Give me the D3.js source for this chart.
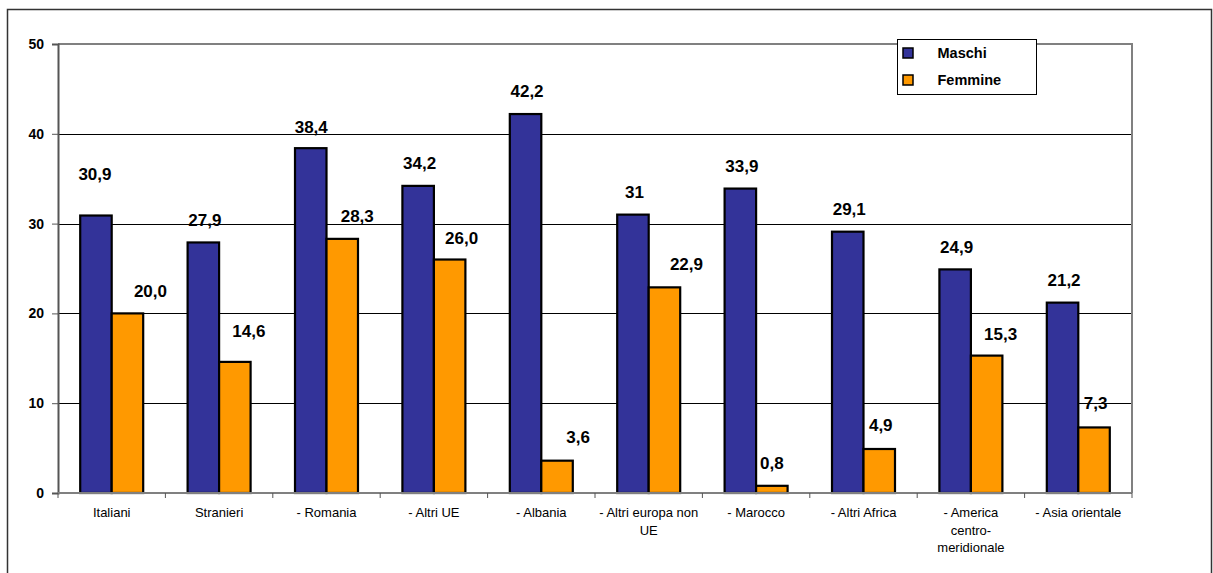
<!DOCTYPE html>
<html>
<head>
<meta charset="utf-8">
<script src="https://cdn.jsdelivr.net/npm/d3@7"></script>
<style>
  html, body { margin: 0; padding: 0; background: #fff; }
  svg { display: block; font-family: Arial, "Liberation Sans", sans-serif; }
</style>
</head>
<body>
<svg id="chart" width="1213" height="573"></svg>
<script>
// Categories (line breaks mark how the axis labels wrap)
const categories = [
  "Italiani", "Stranieri", "- Romania", "- Altri UE", "- Albania",
  "- Altri europa non\nUE", "- Marocco", "- Altri Africa",
  "- America\ncentro-\nmeridionale", "- Asia orientale"
];
const seriesNames = ["Maschi", "Femmine"];
const maschi  = [30.9, 27.9, 38.4, 34.2, 42.2, 31, 33.9, 29.1, 24.9, 21.2];
const femmine = [20.0, 14.6, 28.3, 26.0, 3.6, 22.9, 0.8, 4.9, 15.3, 7.3];
const yTicks = [0, 10, 20, 30, 40, 50];

// Hand-placed value labels: extra pixel shift per bar [dx, dy]
const labelShiftMaschi  = [[-2.5,-19],[0,0],[-1,2],[0,0],[0,0],[0,0],[0,0],[0,0],[0,0],[0,0]];
const labelShiftFemmine = [[21.5,0],[12.5,-8],[13.5,0],[10.5,1],[19.5,-1],[20.5,0],[-1.5,0],[0,-1],[12.5,1],[0,-2]];

const colors = { Maschi: "#333399", Femmine: "#FF9900" };

const itLocale = d3.formatLocale({ decimal: ",", thousands: ".", grouping: [3], currency: ["€", ""] });
const fmt = { Maschi: itLocale.format(".1~f"), Femmine: itLocale.format(".1f") };

const svg = d3.select("#chart");

// Outer frame
svg.append("path")
  .attr("d", "M7.5,573 V9.5 H1211.5 V573")
  .attr("fill", "none").attr("stroke", "#333").attr("stroke-width", 1.5);

const plot = { left: 58, right: 1132, top: 44, bottom: 493 };

const x = d3.scaleBand().domain(categories).range([plot.left, plot.right]).padding(0);
const xs = d3.scaleBand().domain(seriesNames).range([0, x.bandwidth()])
  .paddingInner(0).paddingOuter(0.705);
const y = d3.scaleLinear().domain([0, 50]).range([plot.bottom, plot.top]);

// Gridlines
svg.append("g").selectAll("line").data(yTicks.filter(t => t > 0 && t < 50)).join("line")
  .attr("x1", plot.left).attr("x2", plot.right)
  .attr("y1", d => Math.round(y(d)) + 0.5).attr("y2", d => Math.round(y(d)) + 0.5)
  .attr("stroke", "#000").attr("stroke-width", 1);

// Plot frame (top and right)
svg.append("path")
  .attr("d", `M${plot.left},${plot.top} H${plot.right} V${plot.bottom}`)
  .attr("fill", "none").attr("stroke", "#808080").attr("stroke-width", 2);

// Bars
const rows = categories.map((c, i) => ({ cat: c, i, values: [
  { s: "Maschi", v: maschi[i], shift: labelShiftMaschi[i] },
  { s: "Femmine", v: femmine[i], shift: labelShiftFemmine[i] }
]}));

const groups = svg.append("g").selectAll("g").data(rows).join("g")
  .attr("transform", d => `translate(${x(d.cat)},0)`);

groups.selectAll("rect").data(d => d.values).join("rect")
  .attr("x", d => xs(d.s))
  .attr("width", xs.bandwidth())
  .attr("y", d => y(d.v))
  .attr("height", d => y(0) - y(d.v))
  .attr("fill", d => colors[d.s])
  .attr("stroke", "#000").attr("stroke-width", 2.2);

// Value labels
groups.selectAll("text").data(d => d.values).join("text")
  .attr("x", d => xs(d.s) + xs.bandwidth() / 2 + 1.5 + d.shift[0])
  .attr("y", d => y(d.v) - 23 + d.shift[1])
  .attr("dy", "0.36em")
  .attr("text-anchor", "middle")
  .attr("font-size", 17).attr("font-weight", "bold").attr("fill", "#000")
  .text(d => fmt[d.s](d.v));

// Y axis
const yAxis = svg.append("g").attr("transform", `translate(${plot.left},0)`)
  .call(d3.axisLeft(y).tickValues(yTicks).tickSize(6).tickPadding(8).tickFormat(d3.format("d")));
yAxis.select(".domain").attr("stroke", "#555").attr("stroke-width", 2);
yAxis.selectAll(".tick line").attr("stroke", "#555");
yAxis.selectAll(".tick text").attr("font-size", 14).attr("font-weight", "bold")
  .attr("font-family", "Arial, 'Liberation Sans', sans-serif").attr("fill", "#000");

// X axis: ticks at category boundaries
const xAxis = svg.append("g");
xAxis.append("line")
  .attr("x1", plot.left).attr("x2", plot.right)
  .attr("y1", plot.bottom).attr("y2", plot.bottom)
  .attr("stroke", "#808080").attr("stroke-width", 2);
const bounds = categories.map(c => x(c)).concat([plot.right]);
xAxis.selectAll("line.tk").data(bounds).join("line").attr("class", "tk")
  .attr("x1", d => d).attr("x2", d => d)
  .attr("y1", plot.bottom).attr("y2", plot.bottom + 5)
  .attr("stroke", "#555").attr("stroke-width", 1);

const catLabels = xAxis.selectAll("text").data(categories).join("text")
  .attr("text-anchor", "middle")
  .attr("font-size", 13).attr("fill", "#000")
  .attr("transform", d => `translate(${x(d) + x.bandwidth() / 2},517)`);
catLabels.selectAll("tspan").data(d => d.split("\n")).join("tspan")
  .attr("x", 0).attr("y", (d, i) => i * 17.5)
  .text(d => d);

// Legend
const legend = svg.append("g").attr("transform", "translate(897.5,39.5)");
legend.append("rect").attr("width", 139).attr("height", 55)
  .attr("fill", "#fff").attr("stroke", "#000").attr("stroke-width", 1);
const li = legend.selectAll("g").data(seriesNames).join("g")
  .attr("transform", (d, i) => `translate(0,${13.5 + i * 27})`);
li.append("rect").attr("x", 5.5).attr("y", -5).attr("width", 10).attr("height", 10)
  .attr("fill", d => colors[d]).attr("stroke", "#000").attr("stroke-width", 1.5);
li.append("text").attr("x", 40).attr("dy", "0.36em")
  .attr("font-size", 14.5).attr("font-weight", "bold").attr("fill", "#000")
  .text(d => d);
</script>
</body>
</html>
